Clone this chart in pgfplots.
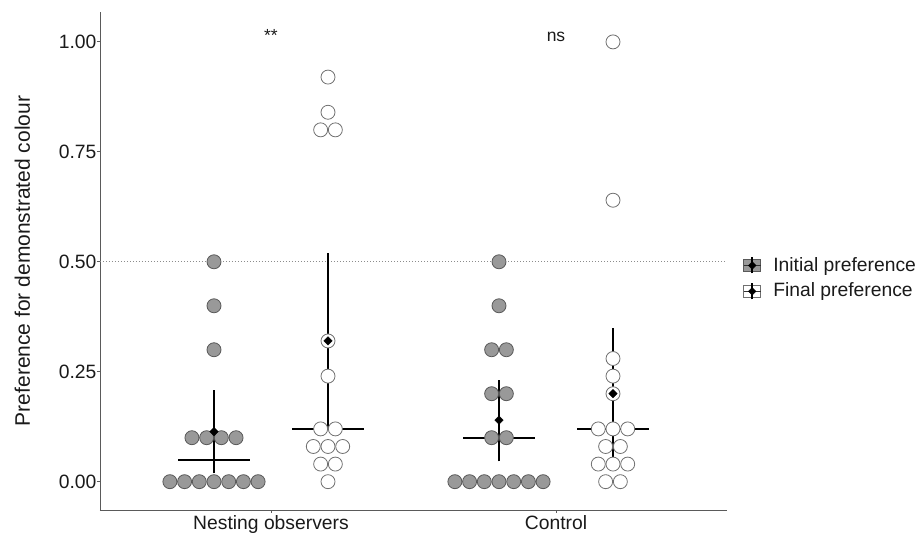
\documentclass[border=0pt]{standalone}
\usepackage{pgfplots}
\pgfplotsset{compat=1.18}
\usepackage{fontspec}
\setmainfont{Liberation Sans}
\definecolor{dotfill}{HTML}{999999}
\definecolor{dotedge}{HTML}{595959}
\definecolor{openedge}{HTML}{707070}
\definecolor{axgray}{HTML}{5A5A5A}
\definecolor{txt}{HTML}{1A1A1A}
\definecolor{refgray}{HTML}{8C8C8C}

\begin{document}
\fontsize{19.3pt}{23pt}\selectfont
\begin{tikzpicture}
\begin{axis}[
  at={(0,0)}, anchor=south west,
  scale only axis, width=627pt, height=498pt,
  xmin=0.4, xmax=2.6, ymin=-0.0644, ymax=1.068,
  clip=false,
  axis lines=left,
  axis line style={-, axgray, line width=0.9pt},
  xtick={1,2}, xticklabels={Nesting observers, Control},
  ytick={0,0.25,0.5,0.75,1},
  /pgf/number format/assume math mode=true,
  yticklabel style={/pgf/number format/fixed, /pgf/number format/fixed zerofill, /pgf/number format/precision=2, xshift=6pt},
  xticklabel style={yshift=4pt},
  tick align=outside, major tick length=3pt,
  tick style={axgray, line width=0.8pt},
  ticklabel style={font=\fontsize{19.3pt}{23pt}\selectfont, text=txt},
  ylabel={Preference for demonstrated colour},
  every axis y label/.style={at={(axis description cs:-0.124,0.5)}, rotate=90, anchor=center, font=\fontsize{21pt}{25pt}\selectfont, text=txt},
  legend style={at={(axis description cs:1,0.465)}, anchor=west, xshift=16pt,
    draw=none, fill=none, inner sep=0pt, row sep=5pt,
    font=\fontsize{19.3pt}{23pt}\selectfont, text=txt},
  legend cell align=left,
]
% reference line
\addplot[forget plot, refgray, line width=0.8pt, dash pattern=on 1pt off 2pt] coordinates {(0.4,0.5) (2.6,0.5)};

% Nesting observers - initial (filled)
\addplot[forget plot, only marks, mark=*, mark size=7pt, mark options={fill=dotfill, draw=dotedge, line width=0.8pt}] coordinates {
 (0.6452,0) (0.6968,0) (0.7484,0) (0.8,0) (0.8516,0) (0.9032,0) (0.9548,0)
 (0.7226,0.1) (0.7742,0.1) (0.8258,0.1) (0.8774,0.1)
 (0.8,0.3) (0.8,0.4) (0.8,0.5)
};
% Nesting observers - final (open)
\addplot[forget plot, only marks, mark=*, mark size=7pt, mark options={fill=white, draw=openedge, line width=0.8pt}] coordinates {
 (1.2,0)
 (1.1742,0.04) (1.2258,0.04)
 (1.1484,0.08) (1.2,0.08) (1.2516,0.08)
 (1.1742,0.12) (1.2258,0.12)
 (1.2,0.24) (1.2,0.32)
 (1.1742,0.80) (1.2258,0.80) (1.2,0.84) (1.2,0.92)
};
% Control - initial (filled)
\addplot[forget plot, only marks, mark=*, mark size=7pt, mark options={fill=dotfill, draw=dotedge, line width=0.8pt}] coordinates {
 (1.6452,0) (1.6968,0) (1.7484,0) (1.8,0) (1.8516,0) (1.9032,0) (1.9548,0)
 (1.7742,0.1) (1.8258,0.1)
 (1.7742,0.2) (1.8258,0.2)
 (1.7742,0.3) (1.8258,0.3)
 (1.8,0.4) (1.8,0.5)
};
% Control - final (open)
\addplot[forget plot, only marks, mark=*, mark size=7pt, mark options={fill=white, draw=openedge, line width=0.8pt}] coordinates {
 (2.1742,0) (2.2258,0)
 (2.1484,0.04) (2.2,0.04) (2.2516,0.04)
 (2.1742,0.08) (2.2258,0.08)
 (2.1484,0.12) (2.2,0.12) (2.2516,0.12)
 (2.2,0.2) (2.2,0.24) (2.2,0.28) (2.2,0.64) (2.2,1.0)
};

% medians
\addplot[forget plot, black, line width=1.9pt] coordinates {(0.675,0.05) (0.925,0.05)};
\addplot[forget plot, black, line width=1.9pt] coordinates {(1.075,0.12) (1.325,0.12)};
\addplot[forget plot, black, line width=1.9pt] coordinates {(1.675,0.10) (1.925,0.10)};
\addplot[forget plot, black, line width=1.9pt] coordinates {(2.075,0.12) (2.325,0.12)};
% intervals
\addplot[forget plot, black, line width=1.9pt] coordinates {(0.8,0.019) (0.8,0.209)};
\addplot[forget plot, black, line width=1.9pt] coordinates {(1.2,0.12) (1.2,0.52)};
\addplot[forget plot, black, line width=1.9pt] coordinates {(1.8,0.046) (1.8,0.232)};
\addplot[forget plot, black, line width=1.9pt] coordinates {(2.2,0.049) (2.2,0.349)};
% means
\addplot[forget plot, only marks, mark=square*, mark size=3pt, mark options={rotate=45, fill=black, draw=black}] coordinates {
 (0.8,0.114) (1.2,0.32) (1.8,0.14) (2.2,0.2)
};

% significance
\node[anchor=base, font=\fontsize{17.5pt}{20pt}\selectfont, text=txt] at (axis cs:1,1.0) {**};
\node[anchor=base, font=\fontsize{17.5pt}{20pt}\selectfont, text=txt] at (axis cs:2,1.0) {ns};

% legend
\addlegendimage{legend image code/.code={
  \draw[fill=dotfill, draw=dotedge, line width=0.8pt] (0pt,-6pt) rectangle (17pt,6pt);
  \draw[black!80, line width=1pt] (0pt,0pt) -- (17pt,0pt);
  \draw[black, line width=1.6pt] (8.5pt,-8pt) -- (8.5pt,8pt);
  \fill[black] (8.5pt,3.8pt) -- (12.3pt,0pt) -- (8.5pt,-3.8pt) -- (4.7pt,0pt) -- cycle;
  \path[draw=none] (0pt,0pt) -- (27.6pt,0pt);
}}
\addlegendentry{Initial preference}
\addlegendimage{legend image code/.code={
  \draw[fill=white, draw=openedge, line width=0.8pt] (0pt,-6pt) rectangle (17pt,6pt);
  \draw[black!80, line width=1pt] (0pt,0pt) -- (17pt,0pt);
  \draw[black, line width=1.6pt] (8.5pt,-8pt) -- (8.5pt,8pt);
  \fill[black] (8.5pt,3.8pt) -- (12.3pt,0pt) -- (8.5pt,-3.8pt) -- (4.7pt,0pt) -- cycle;
  \path[draw=none] (0pt,0pt) -- (27.6pt,0pt);
}}
\addlegendentry{Final preference}
\end{axis}
\pgfresetboundingbox
\path[use as bounding box] (-100pt,-25pt) rectangle (822pt,510pt);
\end{tikzpicture}
\end{document}
